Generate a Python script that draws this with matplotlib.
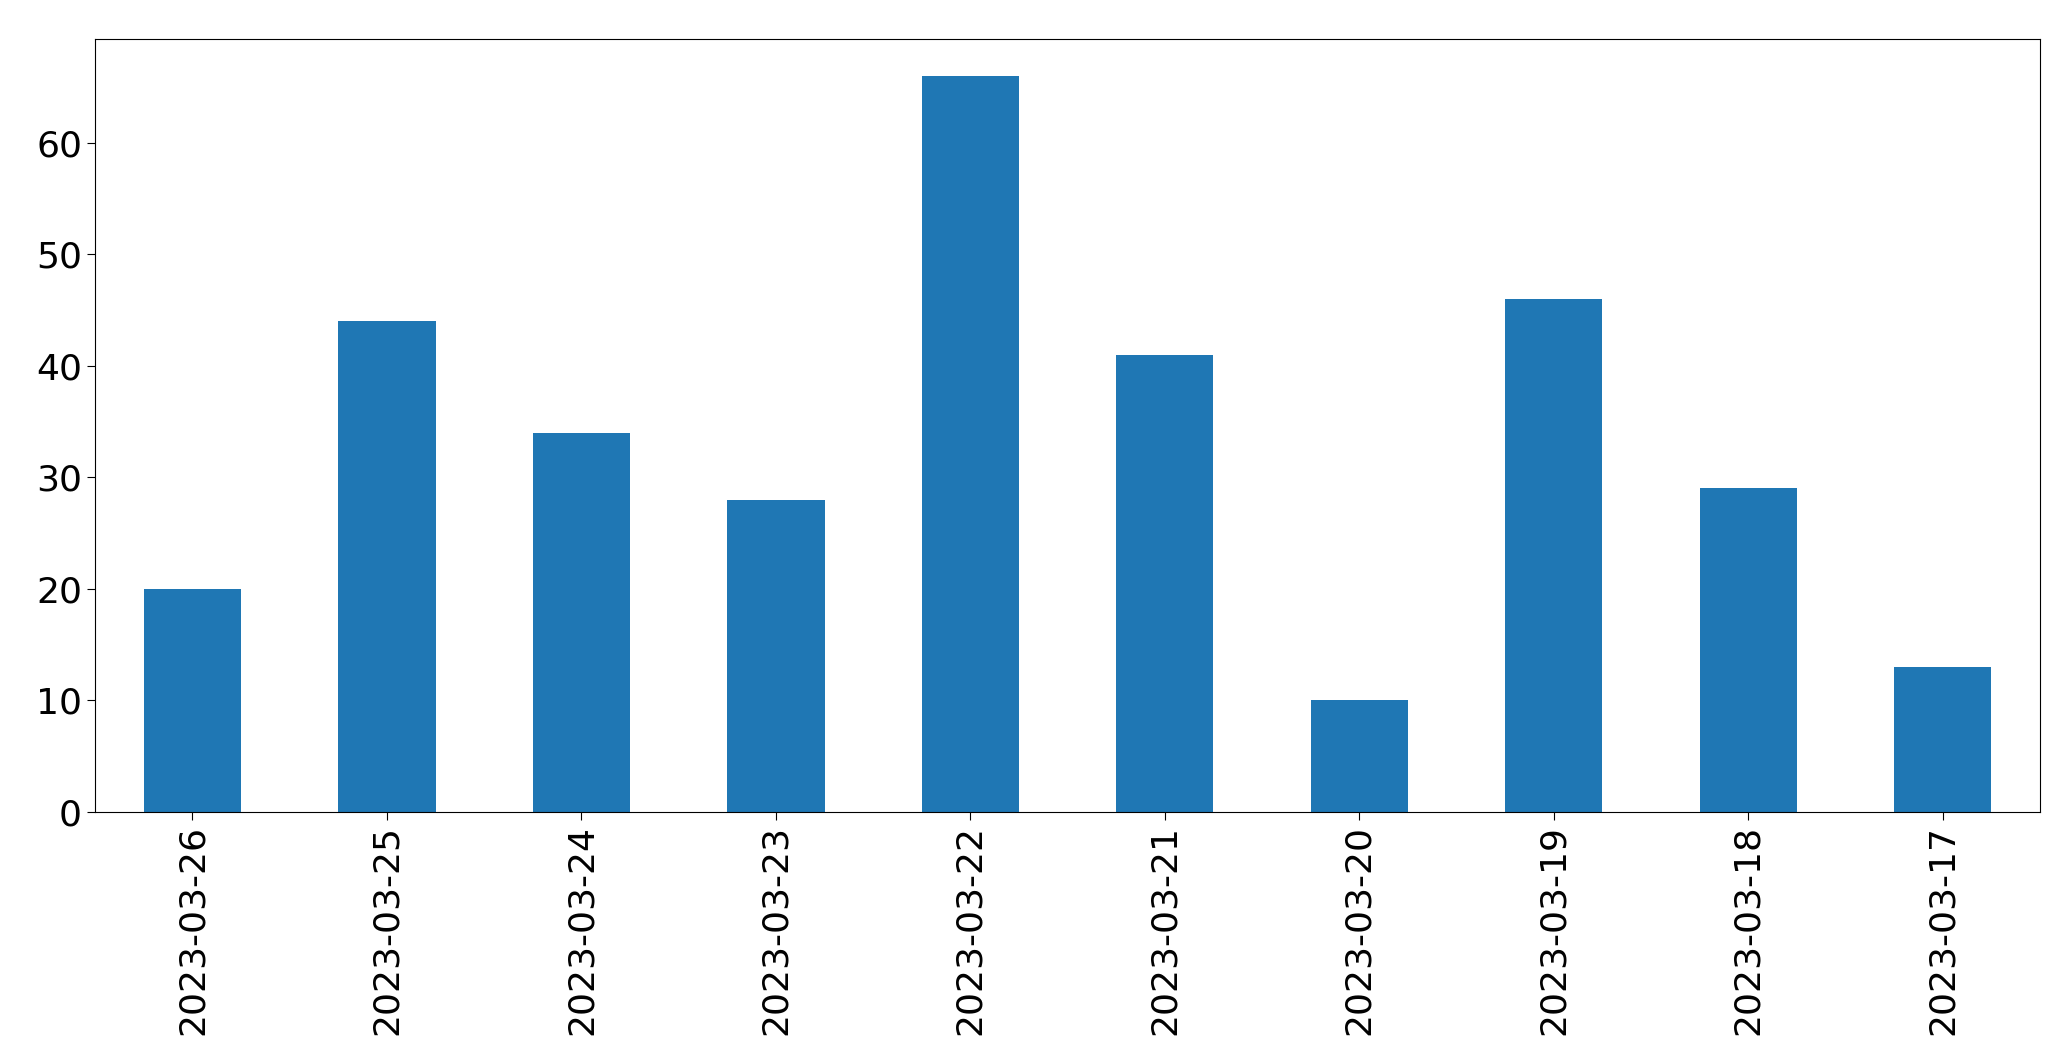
import matplotlib
matplotlib.use("Agg")
import matplotlib.pyplot as plt

dates = ["2023-03-26", "2023-03-25", "2023-03-24", "2023-03-23", "2023-03-22",
         "2023-03-21", "2023-03-20", "2023-03-19", "2023-03-18", "2023-03-17"]
counts = [20, 44, 34, 28, 66, 41, 10, 46, 29, 13]

fig = plt.figure(figsize=(20.71, 10.61), dpi=100)
ax = fig.add_axes([0.046, 0.235, 0.939, 0.728])
x = range(len(dates))
ax.bar(x, counts, width=0.5, color="#1f77b4")
ax.set_xticks(list(x))
ax.set_xticklabels(dates, rotation=90)
ax.set_xlim(-0.5, len(dates) - 0.5)
ax.set_ylim(0, 69.3)
ax.tick_params(labelsize=26, length=6)
fig.savefig("out.png")
